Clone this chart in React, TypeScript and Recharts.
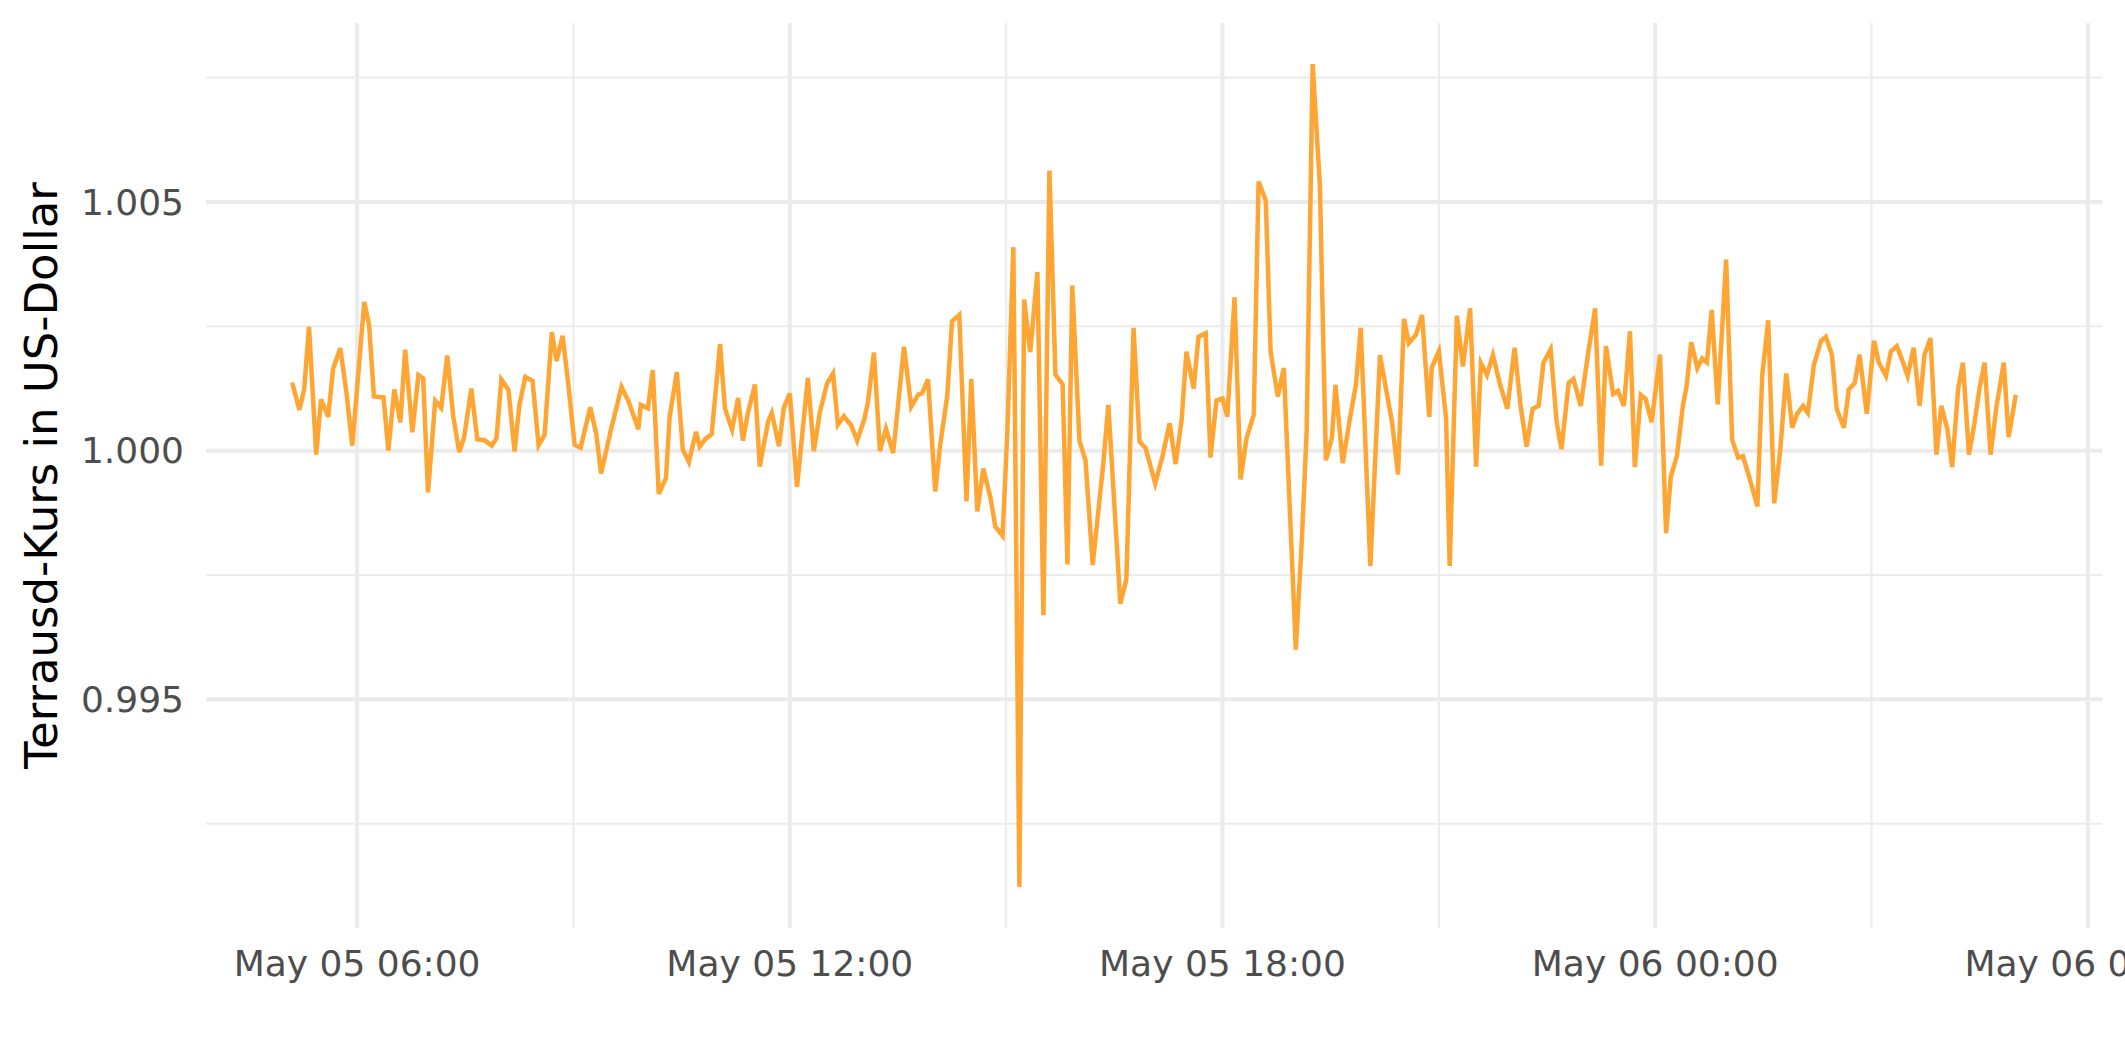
import React from 'react';
import { LineChart, Line, XAxis, YAxis, CartesianGrid } from 'recharts';

// minutes since May 05 00:00
const TIME_MIN = [
  306, 312, 316, 320, 326, 330, 336, 340, 346, 351,
  356, 366, 370, 374, 382, 386, 391, 396, 400, 406,
  411, 415, 419, 425, 430, 435, 440, 445, 449, 455,
  460, 466, 472, 476, 480, 486, 491, 495, 500, 506,
  511, 516, 522, 526, 531, 536, 541, 546, 554, 559,
  563, 571, 574, 580, 586,
  594, 596, 602, 606, 611, 617, 620, 626, 631, 636,
  642, 645, 650, 655, 662, 666, 672, 677, 681, 685,
  691, 695, 702, 705, 711, 715, 720, 726, 735, 740,
  745, 751, 756, 760, 765, 771, 776, 782, 785, 790,
  795, 800, 806, 815, 821, 827, 830, 835, 841, 845,
  851, 855, 861, 867, 871, 876, 881, 887, 891, 897,
  901, 906, 911, 915, 920, 926, 931, 936, 941, 947,
  951, 955,
  961, 966, 972, 981, 985, 995, 1000, 1006, 1011, 1016,
  1024, 1030, 1036, 1041, 1046, 1050, 1056, 1060, 1066, 1070,
  1075, 1080, 1084, 1090, 1095, 1100, 1106, 1110, 1116, 1120,
  1126, 1131, 1141, 1146, 1150, 1155, 1161, 1166, 1171, 1174,
  1180, 1186, 1191, 1195, 1203, 1211, 1216, 1221, 1226, 1231,
  1235, 1241, 1246, 1252, 1254, 1260, 1266, 1269, 1275, 1280,
  1286, 1291, 1295, 1300, 1305, 1311,
  1317, 1323, 1328, 1333, 1338, 1343, 1347, 1353, 1358, 1362,
  1368, 1372, 1378, 1384, 1390, 1395, 1399, 1405, 1409, 1414,
  1419, 1423, 1428, 1432, 1437, 1444, 1449, 1453, 1458, 1463,
  1466, 1470, 1475, 1479, 1483, 1487, 1492, 1499, 1504, 1509,
  1513, 1519, 1525, 1529, 1534, 1539, 1544, 1549, 1554, 1558,
  1563, 1567, 1572, 1578, 1582, 1587, 1591, 1597, 1601, 1606,
  1610, 1616, 1622, 1626, 1632, 1636, 1641, 1645, 1650, 1655,
  1660, 1664, 1669, 1674, 1678, 1683, 1687, 1692, 1696, 1701,
  1705, 1710, 1714, 1719, 1724, 1730, 1734, 1740,
];

const TERRA_USD = [
  1.00137, 1.00082, 1.00123, 1.00249, 0.99992, 1.00103, 1.00068, 1.00164, 1.00206, 1.0012,
  1.0001, 1.00299, 1.00252, 1.00109, 1.00107, 1.0, 1.00123, 1.00057, 1.00203, 1.00037,
  1.00152, 1.00145, 0.99916, 1.001, 1.00086, 1.00191, 1.00069, 0.99997, 1.00026, 1.00125,
  1.00023, 1.00021, 1.0001, 1.00025, 1.00143, 1.00122, 0.99998, 1.00091, 1.00148, 1.0014,
  1.00011, 1.00032, 1.00238, 1.0018, 1.00231, 1.00127, 1.00012, 1.00006, 1.00087, 1.00033,
  0.99954, 1.0004, 1.00069, 1.00128, 1.00098,
  1.00043, 1.00092, 1.00085, 1.00162, 0.99913, 0.99945, 1.00067, 1.00158, 1.00002, 0.99977,
  1.00038, 1.00008, 1.00024, 1.00033, 1.00214, 1.00085, 1.00042, 1.00106, 1.0002, 1.00074,
  1.00133, 0.99968, 1.00059, 1.00076, 1.00009, 1.00086, 1.00115, 0.99927, 1.00146, 0.99999,
  1.00077, 1.00135, 1.00155, 1.00052, 1.00069, 1.00051, 1.0002, 1.00063, 1.00097, 1.00197,
  0.99999, 1.00044, 0.99995, 1.00209, 1.00088, 1.00113, 1.00115, 1.00143, 0.99918, 1.00009,
  1.0011, 1.0026, 1.00273, 0.99898, 1.00144, 0.99878, 0.99964, 0.99905, 0.99847, 0.99829,
  1.00038, 1.00409, 0.99123, 1.00304, 1.00198, 1.00359, 0.99669, 1.00563, 1.00153, 1.00133,
  0.99771, 1.00332,
  1.00019, 0.99981, 0.9977, 0.99978, 1.00092, 0.99692, 0.99741, 1.00247, 1.00018, 1.00005,
  0.99934, 0.99988, 1.00055, 0.99973, 1.00062, 1.00199, 1.00125, 1.00229, 1.00236, 0.99986,
  1.00101, 1.00105, 1.00068, 1.00308, 0.99942, 1.00025, 1.00072, 1.00541, 1.00503, 1.00199,
  1.00109, 1.00166, 0.996, 0.9982, 1.00038, 1.00777, 1.00534, 0.99981, 1.00025, 1.00132,
  0.99975, 1.00065, 1.00132, 1.00247, 0.99768, 1.00192, 1.00125, 1.00058, 0.99952, 1.00265,
  1.00216, 1.00233, 1.00273, 1.00068, 1.00166, 1.002, 1.00065, 0.99768, 1.00271, 1.00169,
  1.00286, 0.99968, 1.00176, 1.00152, 1.00192, 1.00132,
  1.00084, 1.00207, 1.0009, 1.00008, 1.00084, 1.0009, 1.00177, 1.00204, 1.00057, 1.00003,
  1.00136, 1.00144, 1.0009, 1.00193, 1.00286, 0.9997, 1.0021, 1.00114, 1.0012, 1.0009,
  1.0024, 0.99967, 1.00112, 1.00104, 1.00057, 1.00193, 0.99834, 0.99948, 0.99989, 1.0009,
  1.00128, 1.00218, 1.00166, 1.00185, 1.00177, 1.00283, 1.00093, 1.00384, 1.00022, 0.99986,
  0.99989, 0.9994, 0.99888, 1.0015, 1.00262, 0.99894, 1.0, 1.00155, 1.00046, 1.00074,
  1.0009, 1.00076, 1.00172, 1.00221, 1.00229, 1.00193, 1.00084, 1.00046, 1.00123, 1.00136,
  1.00193, 1.00074, 1.00221, 1.00177, 1.0015, 1.00199, 1.0021, 1.00185, 1.0015, 1.00207,
  1.0009, 1.00193, 1.00226, 0.99992, 1.0009, 1.00044, 0.99967, 1.00123, 1.00177, 0.99992,
  1.00046, 1.00128, 1.00177, 0.99992, 1.0009, 1.00177, 1.00027, 1.00112,
];

const TIME_TICKS = [360, 720, 1080, 1440, 1800];
const TIME_MINOR = [540, 900, 1260, 1620];
const PRICE_TICKS = [0.995, 1.0, 1.005];
const PRICE_MINOR = [0.9925, 0.9975, 1.0025, 1.0075];

const X_DOMAIN: [number, number] = [234.3, 1811.7];
const Y_DOMAIN: [number, number] = [0.990403, 1.008597];

const data = TIME_MIN.map((t, i) => ({ t, price: TERRA_USD[i] }));

const fmtTime = (m: number) => {
  const day = 5 + Math.floor(m / 1440);
  const hh = Math.floor((m % 1440) / 60);
  return `May 0${day} ${String(hh).padStart(2, '0')}:00`;
};

const GRID = '#EBEBEB';
const FONT = 'DejaVu Sans, Verdana, sans-serif';

// grid positions go through the axis scale when it is handed over
const xGrid = (values: number[]) => ({ xAxis, offset }: any) => {
  if (xAxis && typeof xAxis.scale === 'function') return values.map((v) => xAxis.scale(v));
  return values.map(
    (v) => offset.left + ((v - X_DOMAIN[0]) / (X_DOMAIN[1] - X_DOMAIN[0])) * offset.width
  );
};

const yGrid = (values: number[]) => ({ yAxis, offset }: any) => {
  if (yAxis && typeof yAxis.scale === 'function') return values.map((v) => yAxis.scale(v));
  return values.map(
    (v) => offset.top + ((Y_DOMAIN[1] - v) / (Y_DOMAIN[1] - Y_DOMAIN[0])) * offset.height
  );
};

const YTitle = (props: any) => {
  const vb = props.viewBox || {};
  const cy = vb.height ? vb.y + vb.height / 2 : 475;
  const cx = 41;
  return (
    <text
      x={cx}
      y={cy}
      transform={`rotate(-90 ${cx} ${cy})`}
      textAnchor="middle"
      dominantBaseline="central"
      fill="#000000"
      fontSize={45}
      fontFamily={FONT}
    >
      Terrausd-Kurs in US-Dollar
    </text>
  );
};

const App: React.FC = () => {
  return (
    <div style={{ width: 2125, height: 1062, background: '#ffffff' }}>
      <style>{'body{margin:0;}'}</style>
      <LineChart
        width={2125}
        height={1062}
        data={data}
        margin={{ top: 23, right: 23, left: 0, bottom: 0 }}
      >
        <CartesianGrid
          stroke={GRID}
          strokeWidth={2}
          verticalCoordinatesGenerator={xGrid(TIME_MINOR)}
          horizontalCoordinatesGenerator={yGrid(PRICE_MINOR)}
        />
        <CartesianGrid
          stroke={GRID}
          strokeWidth={4}
          verticalCoordinatesGenerator={xGrid(TIME_TICKS)}
          horizontalCoordinatesGenerator={yGrid(PRICE_TICKS)}
        />
        <XAxis
          dataKey="t"
          type="number"
          domain={X_DOMAIN}
          allowDataOverflow
          ticks={TIME_TICKS}
          interval={0}
          tickFormatter={fmtTime}
          axisLine={false}
          tickLine={false}
          tickSize={0}
          tickMargin={22}
          height={134}
          tick={{ fill: '#4D4D4D', fontSize: 36, fontFamily: FONT }}
        />
        <YAxis
          type="number"
          domain={Y_DOMAIN}
          allowDataOverflow
          ticks={PRICE_TICKS}
          interval={0}
          tickFormatter={(v: number) => v.toFixed(3)}
          axisLine={false}
          tickLine={false}
          tickSize={0}
          tickMargin={22}
          width={206}
          tick={{ fill: '#4D4D4D', fontSize: 36, fontFamily: FONT }}
          label={<YTitle />}
        />
        <Line
          type="linear"
          dataKey="price"
          stroke="#FFA533"
          strokeWidth={4.5}
          dot={false}
          isAnimationActive={false}
        />
      </LineChart>
    </div>
  );
};

export default App;
